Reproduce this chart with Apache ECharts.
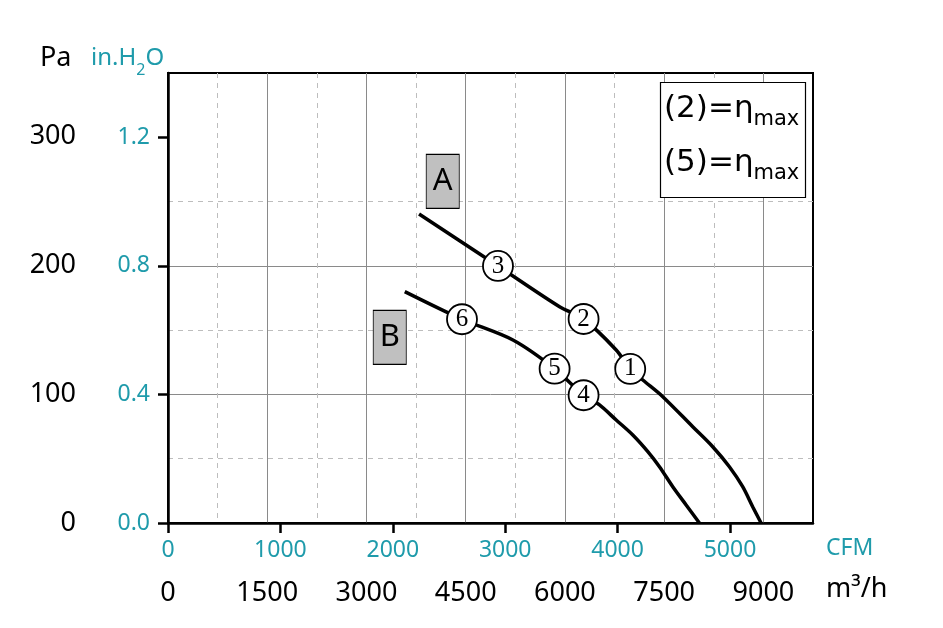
<!DOCTYPE html>
<html><head><meta charset="utf-8">
<script src="https://cdn.jsdelivr.net/npm/echarts@6/dist/echarts.min.js"></script>
<style>html,body{margin:0;padding:0;background:#fff}#c{width:943px;height:628px}</style>
</head><body><div id="c"></div>
<script>
// ---- data (flow in m³/h, pressure in Pa) ----
const curveA_flow = [3795, 4988, 5919, 6282, 6775, 6987, 7177, 7479, 7932, 8234, 8486, 8687, 8838, 8965];
const curveA_pa   = [239.5, 199.2, 167.6, 158.1, 134.1, 119.4, 110.8, 97.9, 74.6, 59.1, 43.6, 28.1, 12.6, 0];
const curveB_flow = [3579, 4444, 5214, 5844, 6282, 6523, 6775, 7026, 7253, 7429, 7630, 7832, 8033];
const curveB_pa   = [179.3, 157.9, 141.8, 119.6, 99.0, 91.5, 79.8, 68.2, 55.3, 43.6, 28.1, 14.0, 0];
const opLabels = ['1', '2', '3', '4', '5', '6'];
const opFlow   = [6987, 6282, 4988, 6282, 5844, 4444];
const opPa     = [119.4, 158.1, 199.2, 99.0, 119.6, 157.9];
const tagNames = ['A', 'B'];
const tagFlow  = [4153, 3352];
const tagPa    = [264.8, 143.8];
const m3hTicks   = [0, 1500, 3000, 4500, 6000, 7500, 9000];
const cfmTicks   = [0, 1000, 2000, 3000, 4000, 5000];
const paTicks    = [0, 100, 200, 300];
const inH2OTicks = [0, 0.4, 0.8, 1.2];

const M3H_PER_CFM = 1.69901;
const PA_PER_INH2O = 249.089;
const FLOW_MAX = 9750;
const INH2O_MAX = 1.4;

const TEAL = '#1f9bab';
const FONT = 'Noto Sans';

const zip = (a, b) => a.map((v, i) => [v, b[i]]);
const plain = v => String(Math.round(v));

const chart = echarts.init(document.getElementById('c'), null, {renderer: 'canvas'});
chart.setOption({
  animation: false,
  backgroundColor: '#fff',
  grid: {left: 168, right: 130, top: 73, bottom: 105, show: true, borderColor: '#000', borderWidth: 2, backgroundColor: 'transparent'},
  xAxis: [
    { // m³/h (data axis)
      type: 'value', min: 0, max: FLOW_MAX, interval: 1500, position: 'bottom',
      axisLine: {show: false, onZero: false}, axisTick: {show: false},
      axisLabel: {customValues: m3hTicks, formatter: plain, color: '#000', fontSize: 27, fontFamily: FONT, margin: 57},
      splitLine: {show: true, showMaxLine: false, lineStyle: {color: '#8a8a8a', width: 1}}
    },
    { // CFM
      type: 'value', min: 0, max: FLOW_MAX / M3H_PER_CFM, position: 'bottom',
      axisLine: {show: true, onZero: false, lineStyle: {color: '#000', width: 2.5}},
      axisTick: {show: true, customValues: cfmTicks, length: 10, lineStyle: {color: '#000', width: 2.5}},
      axisLabel: {customValues: cfmTicks, formatter: plain, color: TEAL, fontSize: 23, fontFamily: FONT, margin: 16},
      splitLine: {show: false}
    },
    { // dashed half grid
      type: 'value', min: 0, max: FLOW_MAX, interval: 750, position: 'bottom',
      axisLine: {show: false, onZero: false}, axisTick: {show: false}, axisLabel: {show: false},
      splitLine: {show: true, showMaxLine: false, lineStyle: {type: [5, 5], color: ['rgba(0,0,0,0)', '#bdbdbd'], width: 1}}
    }
  ],
  yAxis: [
    { // Pa (data axis)
      type: 'value', min: 0, max: INH2O_MAX * PA_PER_INH2O, position: 'left',
      axisLine: {show: false, onZero: false}, axisTick: {show: false}, splitLine: {show: false},
      axisLabel: {customValues: paTicks, formatter: plain, color: '#000', fontSize: 27, fontFamily: FONT, margin: 92, padding: [0, 0, 5, 0]}
    },
    { // in.H2O
      type: 'value', min: 0, max: INH2O_MAX, interval: 0.4, position: 'left',
      axisLine: {show: true, onZero: false, lineStyle: {color: '#000', width: 2.5}},
      axisTick: {show: true, customValues: inH2OTicks, length: 10, lineStyle: {color: '#000', width: 2.5}},
      axisLabel: {customValues: inH2OTicks, formatter: v => v.toFixed(1), color: TEAL, fontSize: 23, fontFamily: FONT, margin: 18},
      splitLine: {show: true, showMaxLine: false, lineStyle: {color: '#8a8a8a', width: 1}}
    },
    { // dashed half grid
      type: 'value', min: 0, max: INH2O_MAX, interval: 0.2, position: 'left',
      axisLine: {show: false, onZero: false}, axisTick: {show: false}, axisLabel: {show: false},
      splitLine: {show: true, showMaxLine: false, lineStyle: {type: [5, 5], color: ['rgba(0,0,0,0)', '#bdbdbd'], width: 1}}
    }
  ],
  series: [
    {type: 'line', name: 'A', xAxisIndex: 0, yAxisIndex: 0, data: zip(curveA_flow, curveA_pa), smooth: 0.3,
     showSymbol: false, lineStyle: {color: '#000', width: 3.5}, z: 3},
    {type: 'line', name: 'B', xAxisIndex: 0, yAxisIndex: 0, data: zip(curveB_flow, curveB_pa), smooth: 0.3,
     showSymbol: false, lineStyle: {color: '#000', width: 3.5}, z: 3},
    {type: 'scatter', xAxisIndex: 0, yAxisIndex: 0, z: 5,
     data: opLabels.map((l, i) => [opFlow[i], opPa[i], l]),
     symbol: 'circle', symbolSize: 30,
     itemStyle: {color: '#fff', borderColor: '#000', borderWidth: 1.8, opacity: 1},
     label: {show: true, position: 'inside', formatter: p => p.data[2], fontFamily: 'Liberation Serif', fontSize: 25, color: '#000'}},
    {type: 'scatter', xAxisIndex: 0, yAxisIndex: 0, z: 5,
     data: tagNames.map((n, i) => [tagFlow[i], tagPa[i], n]),
     symbol: 'rect', symbolSize: [33, 54],
     itemStyle: {color: '#c0c0c0', borderColor: '#000', borderWidth: 1, opacity: 1},
     label: {show: true, position: 'inside', formatter: p => p.data[2], fontFamily: FONT, fontSize: 31, color: '#000'}}
  ],
  graphic: [
    {type: 'text', left: 40, top: 45, z: 10, style: {text: 'Pa', font: '27px "Noto Sans"', fill: '#000'}},
    {type: 'text', left: 91, top: 46, z: 10, style: {
      text: '{a|in.H}{s|2}{a|O}', fill: TEAL,
      rich: {a: {fontSize: 24, fontFamily: FONT, color: TEAL, verticalAlign: 'bottom', lineHeight: 28},
             s: {fontSize: 16, fontFamily: FONT, color: TEAL, verticalAlign: 'bottom', lineHeight: 20, padding: [0, 0, -8, 0]}}}},
    {type: 'text', left: 826, top: 537, z: 10, style: {text: 'CFM', font: '23px "Noto Sans"', fill: TEAL}},
    {type: 'text', left: 826, top: 576, z: 10, style: {text: 'm³/h', font: '27px "Noto Sans"', fill: '#000'}},
    {type: 'rect', z: 10, shape: {x: 660.5, y: 82.5, width: 145, height: 115}, style: {fill: '#fff', stroke: '#000', lineWidth: 1.2}},
    {type: 'text', left: 664, top: 93, z: 11, style: {
      text: '{a|(2)=η}{s|max}', rich: {a: {fontSize: 31, fontFamily: 'DejaVu Sans', color: '#000', verticalAlign: 'bottom', lineHeight: 40},
                                      s: {fontSize: 21, fontFamily: 'DejaVu Sans', color: '#000', verticalAlign: 'bottom', lineHeight: 34, padding: [0, 0, -6, 0]}}}},
    {type: 'text', left: 664, top: 147, z: 11, style: {
      text: '{a|(5)=η}{s|max}', rich: {a: {fontSize: 31, fontFamily: 'DejaVu Sans', color: '#000', verticalAlign: 'bottom', lineHeight: 40},
                                      s: {fontSize: 21, fontFamily: 'DejaVu Sans', color: '#000', verticalAlign: 'bottom', lineHeight: 34, padding: [0, 0, -6, 0]}}}}
  ]
});
</script>
</body></html>
